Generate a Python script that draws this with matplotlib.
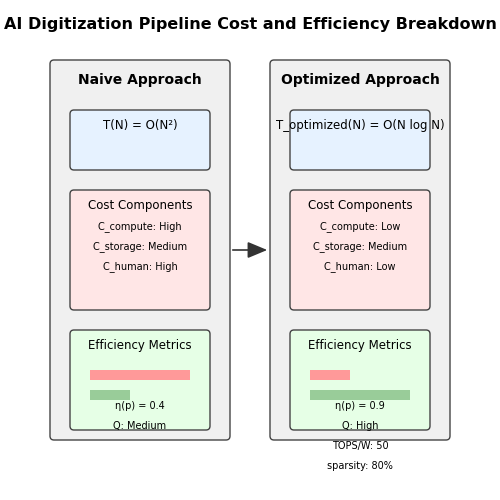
import matplotlib
matplotlib.use("Agg")
import matplotlib.pyplot as plt
from matplotlib.patches import FancyBboxPatch, Rectangle

title = "AI Digitization Pipeline Cost and Efficiency Breakdown"
approaches = ["Naive Approach", "Optimized Approach"]
complexity = ["T(N) = O(N²)", "T_optimized(N) = O(N log N)"]
cost_lines = [["C_compute: High", "C_storage: Medium", "C_human: High"],
              ["C_compute: Low", "C_storage: Medium", "C_human: Low"]]
red_bar = [1.0, 0.4]
green_bar = [0.4, 1.0]
metric_lines = [["η(p) = 0.4", "Q: Medium"], ["η(p) = 0.9", "Q: High"]]
extra_lines = ["TOPS/W: 50", "sparsity: 80%"]

fig = plt.figure(figsize=(5, 5), dpi=100)
ax = fig.add_axes([0, 0, 1, 1])
ax.set_xlim(0, 500); ax.set_ylim(500, 0); ax.axis("off")

ax.text(250, 25, title, ha="center", va="center", fontsize=11.5, fontweight="bold")

def box(x0, y0, x1, y1, fc):
    ax.add_patch(FancyBboxPatch((x0, y0), x1 - x0, y1 - y0,
                 boxstyle="round,pad=0,rounding_size=4", fc=fc, ec="#444444", lw=1))

for i, x in enumerate([50, 270]):
    box(x, 60, x + 180, 440, "#f0f0f0")
    cx = x + 90
    ax.text(cx, 80, approaches[i], ha="center", va="center", fontsize=10, fontweight="bold")
    box(x + 20, 110, x + 160, 170, "#e6f2ff")
    ax.text(cx, 126, complexity[i], ha="center", va="center", fontsize=8.5)
    box(x + 20, 190, x + 160, 310, "#ffe6e6")
    ax.text(cx, 206, "Cost Components", ha="center", va="center", fontsize=8.5)
    for j, t in enumerate(cost_lines[i]):
        ax.text(cx, 227 + 20 * j, t, ha="center", va="center", fontsize=7)
    box(x + 20, 330, x + 160, 430, "#e6ffe6")
    ax.text(cx, 346, "Efficiency Metrics", ha="center", va="center", fontsize=8.5)
    ax.add_patch(Rectangle((x + 40, 370), red_bar[i] * 100, 10, fc="#ff9999", ec="none"))
    ax.add_patch(Rectangle((x + 40, 390), green_bar[i] * 100, 10, fc="#99cc99", ec="none"))
    for j, t in enumerate(metric_lines[i]):
        ax.text(cx, 406 + 20 * j, t, ha="center", va="center", fontsize=7)

for j, t in enumerate(extra_lines):
    ax.text(360, 446 + 20 * j, t, ha="center", va="center", fontsize=7)

ax.annotate("", xy=(270, 250), xytext=(230, 250),
            arrowprops=dict(arrowstyle="-|>,head_length=1.2,head_width=0.5", color="#333333", lw=1.2))

fig.savefig("out.png", dpi=100)
